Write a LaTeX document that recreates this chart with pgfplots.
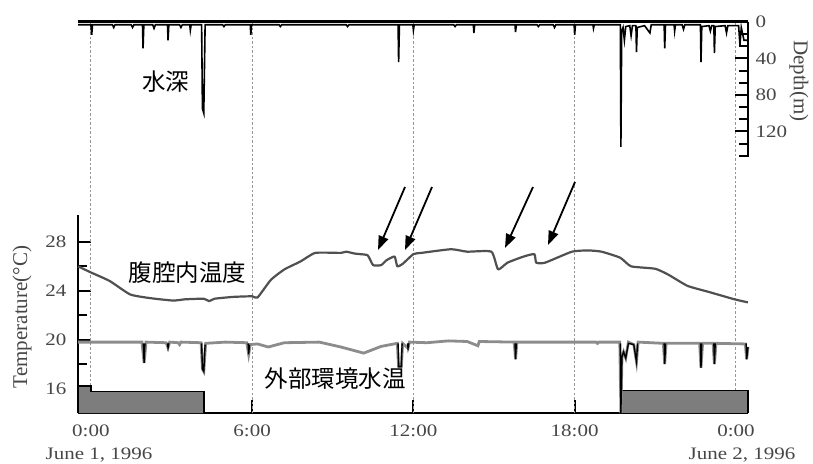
\documentclass[border=0pt]{standalone}
\usepackage{fontspec}
\setmainfont{Liberation Serif}
\newfontfamily\tickfont{Liberation Serif}[FakeStretch=1.2]
\newfontfamily\cjk{Noto Sans CJK JP}
\usepackage{pgfplots}
\pgfplotsset{compat=1.18}
\usetikzlibrary{arrows.meta}
\definecolor{txt}{RGB}{70,70,70}
\definecolor{bodyc}{RGB}{80,80,80}
\definecolor{waterc}{RGB}{140,140,140}
\definecolor{nightc}{RGB}{125,125,125}
\definecolor{gridc}{RGB}{150,150,150}
\begin{document}
\begin{tikzpicture}
\useasboundingbox (0,0) rectangle (813pt,463pt);
% ---------------- bottom: temperatures ----------------
\begin{axis}[
  at={(78pt,50pt)}, anchor=south west, scale only axis,
  width=670pt, height=198pt,
  xmin=-0.48, xmax=24.45, ymin=14, ymax=30.2,
  axis x line*=bottom, axis y line*=left,
  axis line style={line width=2pt,-},
  clip=false,
  xtick={0,6,12,18,24}, xticklabels={0:00,6:00,12:00,18:00,0:00},
  ytick={16,20,24,28}, minor ytick={18,22,26},
  tick align=inside, major tick length=13pt, minor tick length=9pt,
  tick style={line width=2pt,black},
  /pgf/number format/assume math mode=true,
  xticklabel style={font=\tickfont\fontsize{17.5}{19}\selectfont, text=txt, yshift=-8pt},
  yticklabel style={font=\tickfont\fontsize{17.5}{19}\selectfont, text=txt, xshift=-8pt},
]
% vertical dotted lines through both panels
\foreach \h in {0,6,12,18,24}{
  \edef\temp{\noexpand\draw[gridc, line width=0.9pt, dash pattern=on 2.5pt off 2pt] (axis cs:\h,14) -- (axis cs:\h,45.96);}
  \temp
}
% night bars
\addplot[fill=nightc, draw=black, line width=1.5pt] coordinates {(-0.48,14)(-0.48,16.2)(0,16.2)(0,15.75)(4.2,15.75)(4.2,14)};
\addplot[fill=nightc, draw=black, line width=1.5pt] coordinates {(24.45,14)(24.45,15.84)(19.72,15.84)(19.72,14)};
% body cavity temperature
\addplot[bodyc, line width=2.2pt, line join=round, smooth, tension=0.3] coordinates {
(-0.48,26.0)(0,25.5)(0.7,24.8)(1.46,23.7)(2.2,23.4)(3.06,23.2)(3.5,23.3)(4.2,23.35)(4.4,23.15)(4.6,23.35)(5.3,23.5)(6.0,23.55)(6.2,23.45)(6.7,24.9)(7.2,25.75)(7.8,26.4)(8.35,27.1)(9.3,27.1)(9.5,27.2)(9.8,27.05)(10.0,27.0)(10.3,26.9)(10.5,26.1)(10.8,26.1)(11.0,26.5)(11.3,26.8)(11.4,26.0)(11.6,26.2)(12.0,27.0)(12.3,27.1)(13.4,27.4)(14.0,27.2)(14.9,27.2)(15.15,25.75)(15.5,26.3)(16.1,26.8)(16.5,27.0)(16.57,26.3)(16.9,26.3)(17.9,27.2)(18.5,27.3)(19.0,27.2)(19.7,26.7)(20.1,26.0)(21.0,25.8)(21.5,25.3)(22.2,24.4)(23.0,23.9)(23.95,23.3)(24.45,23.05)
};
% external water temperature
\addplot[waterc, line width=2.8pt] coordinates {
(-0.48,19.8)(1.9,19.8)(1.98,18.1)(2.05,19.8)(2.8,19.75)(2.87,19.35)(2.93,19.8)(3.25,19.75)(3.3,19.6)(3.35,19.8)(4.1,19.75)(4.15,17.6)(4.2,17.4)(4.27,19.7)(5.0,19.8)(5.8,19.75)(5.87,18.8)(5.93,19.6)(6.2,19.65)(6.6,19.4)(7.2,19.75)(8.5,19.8)(9.3,19.4)(10.15,18.9)(10.8,19.45)(11.4,19.7)(11.45,17.8)(11.55,17.8)(11.6,19.7)(11.8,19.3)(11.85,19.8)(12.5,19.75)(13.3,19.9)(14.0,19.85)(14.4,19.5)(14.45,19.85)(15.75,19.8)(15.8,18.4)(15.85,19.8)(17.0,19.8)(18.8,19.8)(18.85,19.7)(18.9,19.8)(19.68,19.8)(19.72,14)(19.76,18.6)(19.82,19.0)(19.9,18.5)(20.0,19.8)(20.2,19.6)(20.3,18.2)(20.36,19.8)(21.3,19.7)(21.35,18.0)(21.4,19.7)(22.65,19.7)(22.7,17.7)(22.76,19.7)(23.15,19.7)(23.2,18.0)(23.26,19.7)(24.35,19.65)(24.4,18.4)(24.45,19.4)
};
% black spikes of water temperature
\addplot[black, line width=1.4pt, unbounded coords=jump] coordinates {
(1.95,19.7)(1.98,18.1)(2.01,19.7)(nan,nan)
(2.85,19.7)(2.87,19.35)(2.9,19.7)(nan,nan)
(4.12,19.7)(4.15,17.6)(4.2,17.4)(4.25,19.6)(nan,nan)
(5.85,19.7)(5.87,18.8)(5.9,19.6)(nan,nan)
(11.43,19.7)(11.45,17.8)(11.55,17.8)(11.58,19.7)(nan,nan)
(11.78,19.7)(11.8,19.3)(11.83,19.7)(nan,nan)
(15.78,19.7)(15.8,18.4)(15.83,19.7)(nan,nan)
(19.7,19.7)(19.72,14)(19.76,18.6)(19.82,19.0)(19.9,18.5)(20.0,19.7)(20.2,19.6)(20.3,18.2)(20.34,19.7)(nan,nan)
(21.33,19.7)(21.35,18.0)(21.38,19.7)(nan,nan)
(22.68,19.7)(22.7,17.7)(22.73,19.7)(nan,nan)
(23.18,19.7)(23.2,18.0)(23.23,19.7)(nan,nan)
(24.38,19.7)(24.4,18.4)(24.45,19.4)
};
% labels
\node[font=\cjk\fontsize{23.5}{26}\selectfont] at (axis cs:3.6,25.5) {腹腔内温度};
\node[font=\cjk\fontsize{23.5}{26}\selectfont] at (axis cs:9.1,16.8) {外部環境水温};
\end{axis}
% ---------------- top: depth ----------------
\begin{axis}[
  at={(78pt,306pt)}, anchor=south west, scale only axis,
  width=670pt, height=135pt,
  xmin=-0.48, xmax=24.45, ymin=0, ymax=148, y dir=reverse,
  axis x line*=top, axis y line*=right,
  axis line style={line width=2pt,-},
  x axis line style={line width=3pt},
  xtick=\empty,
  ytick={0,40,80,120}, minor ytick={13.33,26.67,53.33,66.67,93.33,106.67,133.33,146.67},
  tick align=inside, major tick length=13pt, minor tick length=9pt,
  tick style={line width=2pt,black},
  /pgf/number format/assume math mode=true,
  yticklabel style={font=\tickfont\fontsize{17.5}{19}\selectfont, text=txt, xshift=4pt},
]
\addplot[black, line width=1.6pt] coordinates {
(-0.48,3)(-0.1,3)(0,3)(0.03,14)(0.06,3)(0.8,3)(0.85,6)(0.9,3)(1.5,3)(1.55,6)(1.6,3)(1.92,3)(1.94,29)(1.97,3)(2.3,3)(2.35,7)(2.4,3)(2.85,3)(2.87,20)(2.9,3)(3.3,3)(3.35,6)(3.4,3)(3.68,3)(3.7,9)(3.73,3)(4.12,3)(4.15,95)(4.2,100)(4.25,3)(4.9,3)(4.95,5)(5.0,3)(5.93,3)(5.95,14)(5.98,3)(7.0,3)(7.05,5)(7.1,3)(8.5,3)(9.5,3)(9.55,5)(9.6,3)(11.43,3)(11.45,44)(11.48,3)(11.98,3)(12.0,9)(12.03,3)(13.5,3)(13.55,5)(13.6,3)(14.23,3)(14.25,12)(14.28,3)(15.78,3)(15.8,11)(15.83,3)(16.6,3)(16.65,5)(16.7,3)(17.2,3)(17.25,6)(17.3,3)(17.98,3)(18.0,14)(18.03,3)(18.68,3)(18.7,7)(18.73,3)(19.7,3)(19.72,137)(19.75,10)(19.8,6)(19.85,20)(19.9,5)(20.05,4)(20.1,15)(20.15,4)(20.28,4)(20.3,33)(20.33,6)(20.6,4)(20.8,12)(20.85,3)(21.33,3)(21.35,29)(21.38,3)(21.7,3)(21.72,10)(21.75,3)(22.0,3)(22.05,8)(22.1,3)(22.68,3)(22.7,44)(22.73,5)(23.0,4)(23.05,10)(23.1,4)(23.18,4)(23.2,34)(23.23,5)(23.6,4)(23.65,12)(23.7,4)(24.1,4)(24.15,25)(24.2,6)(24.3,20)(24.45,20)
};
\node[font=\cjk\fontsize{23.5}{26}\selectfont] at (axis cs:2.78,65) {水深};
\end{axis}
% axis titles and dates
\node[rotate=90, text=txt, font=\fontsize{21}{24}\selectfont] at (22pt,316pt-170pt) {Temperature(°C)};
\node[rotate=-90, text=txt, font=\fontsize{21}{24}\selectfont] at (799pt,382pt) {Depth(m)};
\node[text=txt, font=\tickfont\fontsize{17.5}{19}\selectfont] at (99pt,8pt) {June 1, 1996};
\node[text=txt, font=\tickfont\fontsize{17.5}{19}\selectfont] at (742pt,8pt) {June 2, 1996};
% arrows
\foreach \tx/\ty/\hx/\hy in {405/187/378/250, 432/187/405/250, 533/187/505/248, 575/182/548/245}{
  \draw[line width=1.8pt, -{Triangle[length=14pt,width=10pt]}] (\tx pt,463pt-\ty pt) -- (\hx pt,463pt-\hy pt);
}
\end{tikzpicture}
\end{document}
